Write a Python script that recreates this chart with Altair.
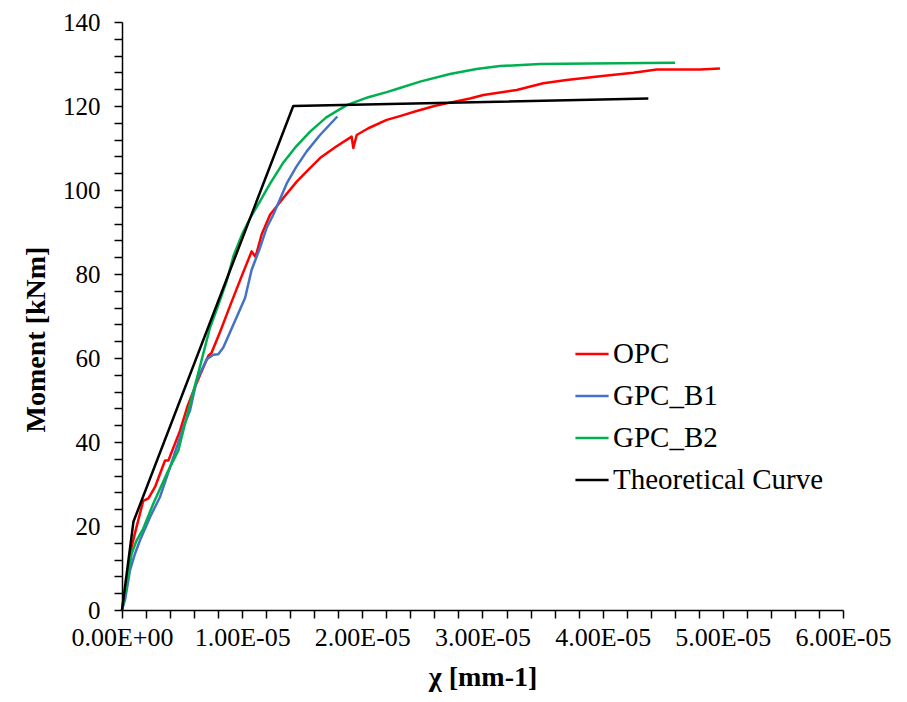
import altair as alt
import pandas as pd

# curvature in units of 1e-5 mm^-1, moment in kNm
opc_x = [0, 0.025, 0.08, 0.108, 0.15, 0.177, 0.22, 0.275, 0.358, 0.386, 0.483, 0.545, 0.62, 0.718, 0.746,
         0.82, 0.899, 0.996, 1.079, 1.107, 1.12, 1.162, 1.232, 1.342, 1.454, 1.55, 1.648, 1.78, 1.911, 1.925,
         1.953, 2.05, 2.203, 2.313, 2.452, 2.6, 2.729, 2.896, 3.007, 3.146, 3.285, 3.506, 3.70, 3.978, 4.255,
         4.45, 4.81, 4.976]
opc_y = [0, 4, 15, 18.3, 23, 26, 26.6, 29.3, 35.6, 35.6, 42.7, 48.5, 54, 60.5, 61.3,
         66.5, 72.4, 79.5, 85.4, 84.2, 85, 89.4, 94.1, 98.1, 102, 104.8, 107.6, 110.3, 112.7, 110,
         113.1, 114.7, 116.7, 117.6, 118.8, 120, 120.8, 121.8, 122.6, 123.2, 123.8, 125.4, 126.2, 127.1, 127.9,
         128.7, 128.7, 128.9]

b1_x = [0, 0.025, 0.067, 0.108, 0.15, 0.233, 0.316, 0.40, 0.51, 0.566, 0.621, 0.705, 0.76, 0.801, 0.843,
        0.94, 1.024, 1.079, 1.148, 1.204, 1.259, 1.37, 1.45, 1.537, 1.648, 1.792]
b1_y = [0, 2.4, 9.5, 13.4, 16.6, 22.1, 26.9, 34, 43.5, 47.5, 54.6, 59.7, 60.8, 60.9, 62.5,
        68.8, 74.3, 81, 86.2, 91, 94.1, 101.5, 105.5, 109.2, 113.1, 117.5]

b2_x = [0, 0.02, 0.08, 0.122, 0.177, 0.26, 0.372, 0.469, 0.552, 0.64, 0.732, 0.80, 0.871, 0.93, 1.0,
        1.07, 1.148, 1.232, 1.342, 1.45, 1.565, 1.70, 1.87, 2.05, 2.203, 2.313, 2.48, 2.729, 2.95,
        3.146, 3.478, 3.894, 4.602]
b2_y = [0, 3, 13.4, 16.6, 19.4, 25.3, 32.4, 38, 47.5, 57, 67.2, 72.5, 78.3, 84.5, 89.5,
        93.5, 97.3, 101.5, 106.5, 110.4, 113.9, 117.3, 120.2, 122.1, 123.3, 124.3, 125.8, 127.6, 128.8,
        129.5, 130, 130.1, 130.3]

th_x = [0, 0.095, 1.425, 4.38]
th_y = [0, 21, 120, 121.8]

series_names = ["OPC", "GPC_B1", "GPC_B2", "Theoretical Curve"]
series_colors = ["#FF0000", "#4472C4", "#00B050", "#000000"]

x_tick_labels = ["0.00E+00", "1.00E-05", "2.00E-05", "3.00E-05", "4.00E-05", "5.00E-05", "6.00E-05"]

rows = []
for name, xs, ys in zip(series_names, [opc_x, b1_x, b2_x, th_x], [opc_y, b1_y, b2_y, th_y]):
    for i, (xv, yv) in enumerate(zip(xs, ys)):
        rows.append({"series": name, "chi": xv * 1e-5, "moment": yv, "idx": i})
df = pd.DataFrame(rows)

x_ticks = [i * 2e-6 for i in range(31)]
y_ticks = list(range(0, 141, 4))

lab_arr = "[" + ",".join("'" + s + "'" for s in x_tick_labels) + "]"
x_label_expr = ("abs(datum.value*1e5 - round(datum.value*1e5)) < 1e-6 ? "
                + lab_arr + "[round(datum.value*1e5)] : ''")
y_label_expr = "datum.value % 20 == 0 ? datum.value : ''"

font = "Times New Roman, Liberation Serif, serif"

chart = alt.Chart(df).mark_line(strokeWidth=2.5, strokeJoin="round").encode(
    x=alt.X("chi:Q",
            scale=alt.Scale(domain=[0, 6e-5], nice=False, zero=True),
            axis=alt.Axis(title="χ [mm-1]", values=x_ticks, labelExpr=x_label_expr,
                          grid=False, labelFlush=False, labelOverlap=False,
                          titlePadding=13)),
    y=alt.Y("moment:Q",
            scale=alt.Scale(domain=[0, 140], nice=False),
            axis=alt.Axis(title="Moment [kNm]", values=y_ticks, labelExpr=y_label_expr,
                          grid=False, labelOverlap=False, labelPadding=14,
                          titlePadding=12, titleY=317)),
    color=alt.Color("series:N",
                    scale=alt.Scale(domain=series_names, range=series_colors),
                    legend=alt.Legend(title=None, orient="none", legendX=452, legendY=314,
                                      symbolType="stroke", symbolSize=1100, symbolStrokeWidth=2.5,
                                      labelFont=font, labelFontSize=29, labelColor="black",
                                      labelLimit=400,
                                      rowPadding=9, labelOffset=3)),
    order="idx:Q",
    detail="series:N",
).properties(
    width=721, height=588,
    padding={"left": 114, "top": 14, "right": 56, "bottom": 84},
    autosize=alt.AutoSizeParams(type="none"),
).configure_view(
    stroke=None
).configure_axis(
    domainColor="black", domainWidth=1.5, tickColor="black", tickWidth=1.5, tickSize=8,
    labelFont=font, labelFontSize=26, labelColor="black",
    titleFont=font, titleFontSize=28, titleFontWeight="bold", titleColor="black",
).configure_axisY(labelFontSize=25).configure_axisX(labelPadding=6)

chart.save("out.html", embed_options={"renderer": "svg", "actions": False})
